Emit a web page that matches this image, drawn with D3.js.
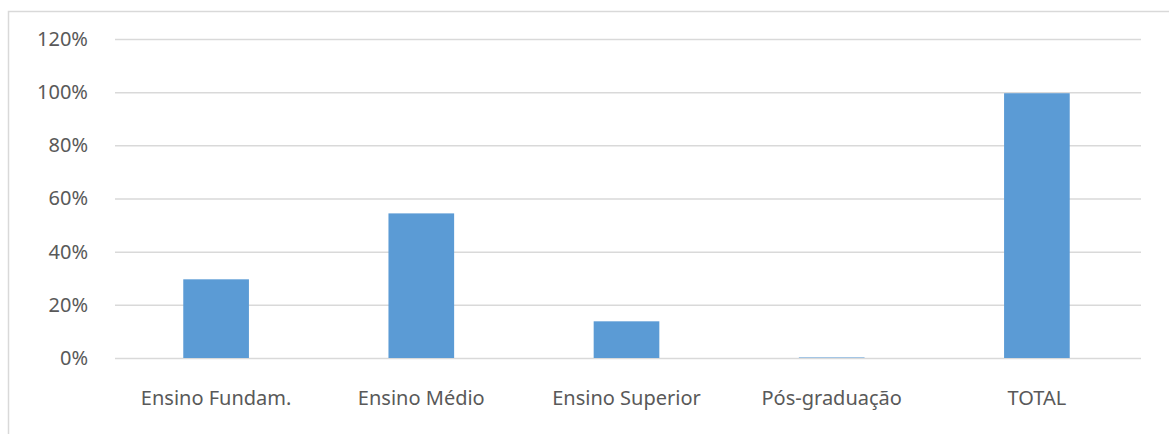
<!DOCTYPE html>
<html>
<head>
<meta charset="utf-8">
<script src="https://cdn.jsdelivr.net/npm/d3@7"></script>
<style>
  html, body { margin: 0; padding: 0; background: #fff; }
  svg { display: block; }
  text { font-family: "Noto Sans", "Open Sans", sans-serif; fill: #595959; }
</style>
</head>
<body>
<svg id="chart" width="1169" height="434"></svg>
<script>
// Escolaridade — share of each education level
const categories = ["Ensino Fundam.", "Ensino Médio", "Ensino Superior", "Pós-graduação", "TOTAL"];
const values = [0.296, 0.544, 0.138, 0.002, 0.996];
const yTicks = [0, 0.2, 0.4, 0.6, 0.8, 1.0, 1.2];

const svg = d3.select("#chart");
const W = 1169, H = 434;
const plot = { left: 115, right: 1141, top: 39, bottom: 358 };

// outer chart frame (left and top edges visible)
svg.append("rect")
  .attr("x", 8.5).attr("y", 11.5)
  .attr("width", W + 20).attr("height", H + 20)
  .attr("fill", "none").attr("stroke", "#d9d9d9").attr("stroke-width", 1.5);

const x = d3.scaleBand()
  .domain(categories)
  .range([plot.left - 1.5, plot.right - 1.5])
  .paddingInner(0.68)
  .paddingOuter(0.34);

const y = d3.scaleLinear()
  .domain([0, 1.2])
  .range([plot.bottom, plot.top]);

// horizontal gridlines
const yAxis = d3.axisLeft(y)
  .tickValues(yTicks)
  .tickSize(-(plot.right - plot.left))
  .tickPadding(27)
  .tickFormat(d3.format(".0%"));

const gy = svg.append("g")
  .attr("transform", `translate(${plot.left},0)`)
  .call(yAxis);
gy.select(".domain").remove();
gy.selectAll(".tick line").attr("stroke", "#d9d9d9").attr("stroke-width", 1.5);
gy.selectAll(".tick text")
  .attr("font-size", 20)
  .attr("font-family", "\"Noto Sans\", sans-serif")
  .attr("fill", "#595959");

// bars
svg.append("g").selectAll("rect")
  .data(categories.map((c, i) => ({ c, v: values[i] })))
  .join("rect")
  .attr("x", d => x(d.c))
  .attr("width", x.bandwidth())
  .attr("y", d => y(d.v))
  .attr("height", d => y(0) - y(d.v))
  .attr("fill", "#5b9bd5");

// category axis
const xAxis = d3.axisBottom(x).tickSize(0).tickPadding(33);
const gx = svg.append("g")
  .attr("transform", `translate(0,${plot.bottom})`)
  .call(xAxis);
gx.select(".domain").remove();
gx.selectAll(".tick text")
  .attr("font-size", 20)
  .attr("font-family", "\"Noto Sans\", sans-serif")
  .attr("fill", "#595959");
</script>
</body>
</html>
